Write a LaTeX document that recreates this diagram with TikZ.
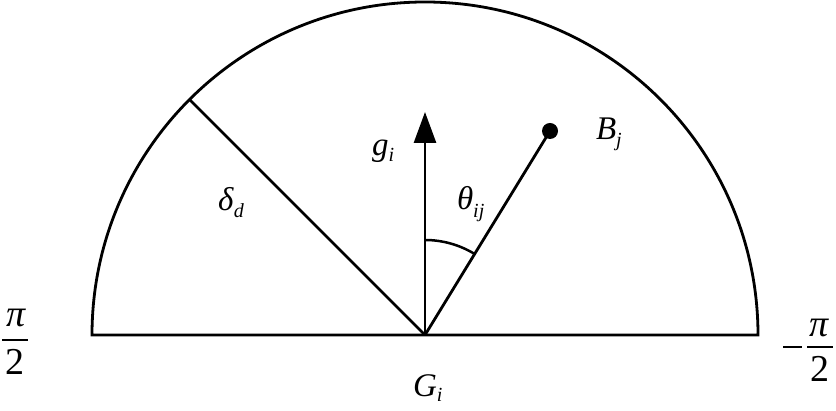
\documentclass[tikz,border=0pt]{standalone}
\usepackage{fontspec}
\setmainfont{Liberation Serif}
\usetikzlibrary{arrows.meta}
\newcommand{\mylab}[3]{\textit{#1}\raisebox{-#3pt}{\fontsize{20}{20}\selectfont\textit{#2}}}
\tikzset{
  ln/.style={line width=2.8pt},
  lab/.style={inner sep=0pt, outer sep=0pt, anchor=base west, font=\fontsize{33}{36}\selectfont},
  fr/.style={inner sep=0pt, outer sep=0pt, anchor=base, font=\fontsize{38}{40}\selectfont},
  bar/.style={line width=2pt},
}
\begin{document}
\begin{tikzpicture}[x=1pt,y=1pt]
\useasboundingbox (0,0) rectangle (836,411);
\fill[white] (0,0) rectangle (836,411);
\coordinate (G) at (425,76);
\coordinate (L) at (92,76);
\coordinate (D) at ([shift={(135:333)}]G);
\coordinate (T) at (425,299);
\coordinate (B) at (550,280);
% semicircle
\draw[ln, line join=miter] (L) arc[start angle=180, end angle=0, radius=333] -- cycle;
% delta line
\draw[ln] (G) -- (D);
% g arrow
\draw[ln, -{Triangle[length=31pt,width=22pt]}] (G) -- (T);
% B line
\draw[ln] (G) -- (B);
\fill (B) circle[radius=8];
% angle arc
\draw[line width=2.5pt] ([shift={(90:95)}]G) arc[start angle=90, end angle=58.5, radius=95];
% labels
\node[lab] (lg) at (372,255) {\mylab{g}{i}{6}};
\node[lab] (ld) at (218,200) {\mylab{δ}{d}{7}};
\node[lab] (lt) at (457,201) {\mylab{θ}{ij}{8}};
\node[lab] (lb) at (596,271) {\mylab{B}{j}{7}};
\node[lab] (lG) at (413,14) {\mylab{G}{i}{5}};
% left fraction
\node[fr] (lpn) at (16,84) {\textit{π}};
\node[fr] (lpd) at (15,36) {2};
\coordinate (lb1) at (2,71);
\coordinate (lb2) at (28,71);
\draw[bar] (lb1) -- (lb2);
% right fraction
\node[fr] (rpn) at (819,74) {\textit{π}};
\node[fr] (rpd) at (820,29) {2};
\coordinate (rb1) at (807,64);
\coordinate (rb2) at (833,64);
\draw[bar] (rb1) -- (rb2);
\coordinate (rm1) at (783,64);
\coordinate (rm2) at (802,64);
\draw[bar] (rm1) -- (rm2);
\end{tikzpicture}
\end{document}
